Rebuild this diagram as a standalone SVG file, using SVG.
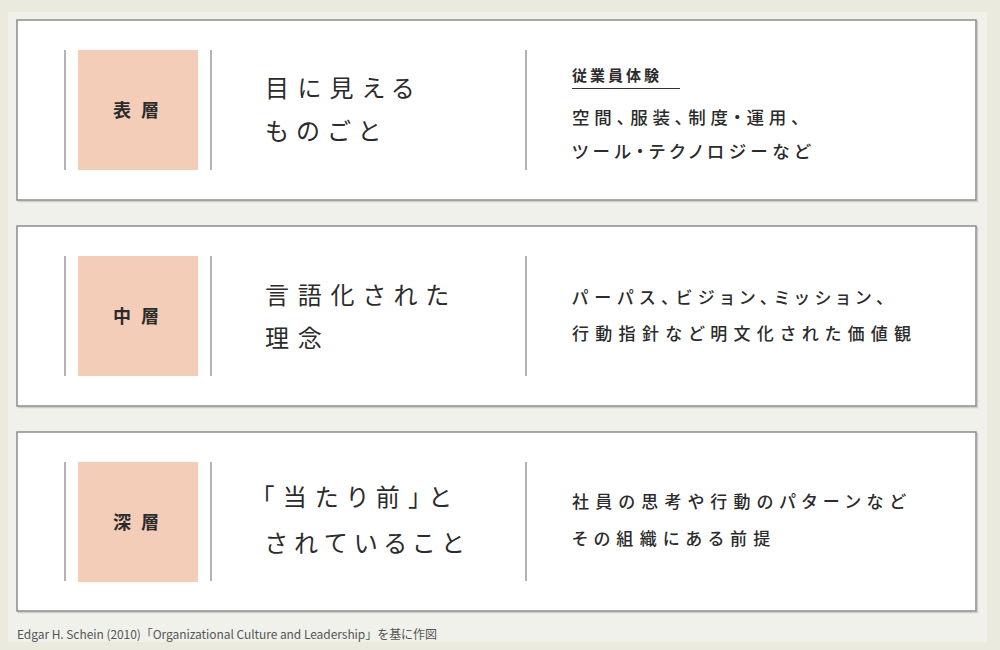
<svg xmlns="http://www.w3.org/2000/svg" width="1000" height="650" viewBox="0 0 1000 650">
<style>
.jp{font-family:"Noto Sans CJK JP","Noto Sans",sans-serif;fill:#2b2b2b}
.box{fill:#fff;stroke:#8c8c8c;stroke-width:1.5}
.shadow{fill:none;stroke:#cfcfca;stroke-width:1.5}
.sq{fill:#f3cdb8}
.vl{stroke:#9a9a9a;stroke-width:1.5}
.lab{font-size:18px;font-weight:700;letter-spacing:10px}
.mid{font-size:24px;font-weight:400;letter-spacing:8.7px;font-feature-settings:"palt"}
.rt{font-size:17px;font-weight:500;letter-spacing:6.3px;font-feature-settings:"palt"}
.rt1{font-size:17.5px;font-weight:500;letter-spacing:4.8px;font-feature-settings:"palt"}
</style>
<rect x="0" y="0" width="1000" height="650" fill="#ebeadf"/>
<rect x="8" y="12" width="979" height="630" fill="#f1f1ec"/>

<g id="layer-surface">
<rect class="shadow" x="18.5" y="21.5" width="959" height="180"/>
<rect class="box" x="17" y="20" width="959" height="180"/>
<line class="vl" x1="65" y1="50" x2="65" y2="170"/>
<rect class="sq" x="78" y="50" width="120" height="120"/>
<line class="vl" x1="211" y1="50" x2="211" y2="170"/>
<text class="jp lab" x="113" y="117">表層</text>
<text class="jp mid" x="265" y="97">目に見える</text>
<text class="jp mid" x="265" y="140">ものごと</text>
<line class="vl" x1="526" y1="50" x2="526" y2="170"/>
<text class="jp" x="572" y="81" font-size="15" font-weight="700" letter-spacing="3">従業員体験</text>
<line x1="572" y1="88.5" x2="680" y2="88.5" stroke="#333" stroke-width="1.2"/>
<text class="jp rt1" x="572" y="124">空間、服装、制度・運用、</text>
<text class="jp rt1" x="572" y="158" style="letter-spacing:4.6px">ツール・テクノロジーなど</text>
</g>

<g id="layer-middle">
<rect class="shadow" x="18.5" y="227.5" width="959" height="180"/>
<rect class="box" x="17" y="226" width="959" height="180"/>
<line class="vl" x1="65" y1="256" x2="65" y2="376"/>
<rect class="sq" x="78" y="256" width="120" height="120"/>
<line class="vl" x1="211" y1="256" x2="211" y2="376"/>
<text class="jp lab" x="113" y="323">中層</text>
<text class="jp mid" x="265" y="304">言語化された</text>
<text class="jp mid" x="265" y="347">理念</text>
<line class="vl" x1="526" y1="256" x2="526" y2="376"/>
<text class="jp rt" x="572" y="304">パーパス、ビジョン、ミッション、</text>
<text class="jp rt" x="572" y="340">行動指針など明文化された価値観</text>
</g>

<g id="layer-deep">
<rect class="shadow" x="18.5" y="433.5" width="959" height="179"/>
<rect class="box" x="17" y="432" width="959" height="179"/>
<line class="vl" x1="65" y1="462" x2="65" y2="581"/>
<rect class="sq" x="78" y="462" width="120" height="120"/>
<line class="vl" x1="211" y1="462" x2="211" y2="581"/>
<text class="jp lab" x="113" y="529">深層</text>
<text class="jp mid" x="262" y="506">「当たり前」と</text>
<text class="jp mid" x="265" y="552" style="letter-spacing:7.5px">されていること</text>
<line class="vl" x1="526" y1="462" x2="526" y2="581"/>
<text class="jp rt" x="572" y="508">社員の思考や行動のパターンなど</text>
<text class="jp rt" x="572" y="545">その組織にある前提</text>
</g>

<g id="connectors"></g>

<text class="jp" x="17" y="639" font-size="12" fill="#555" style="fill:#555" textLength="420" lengthAdjust="spacing">Edgar H. Schein (2010)「Organizational Culture and Leadership」を基に作図</text>
</svg>
